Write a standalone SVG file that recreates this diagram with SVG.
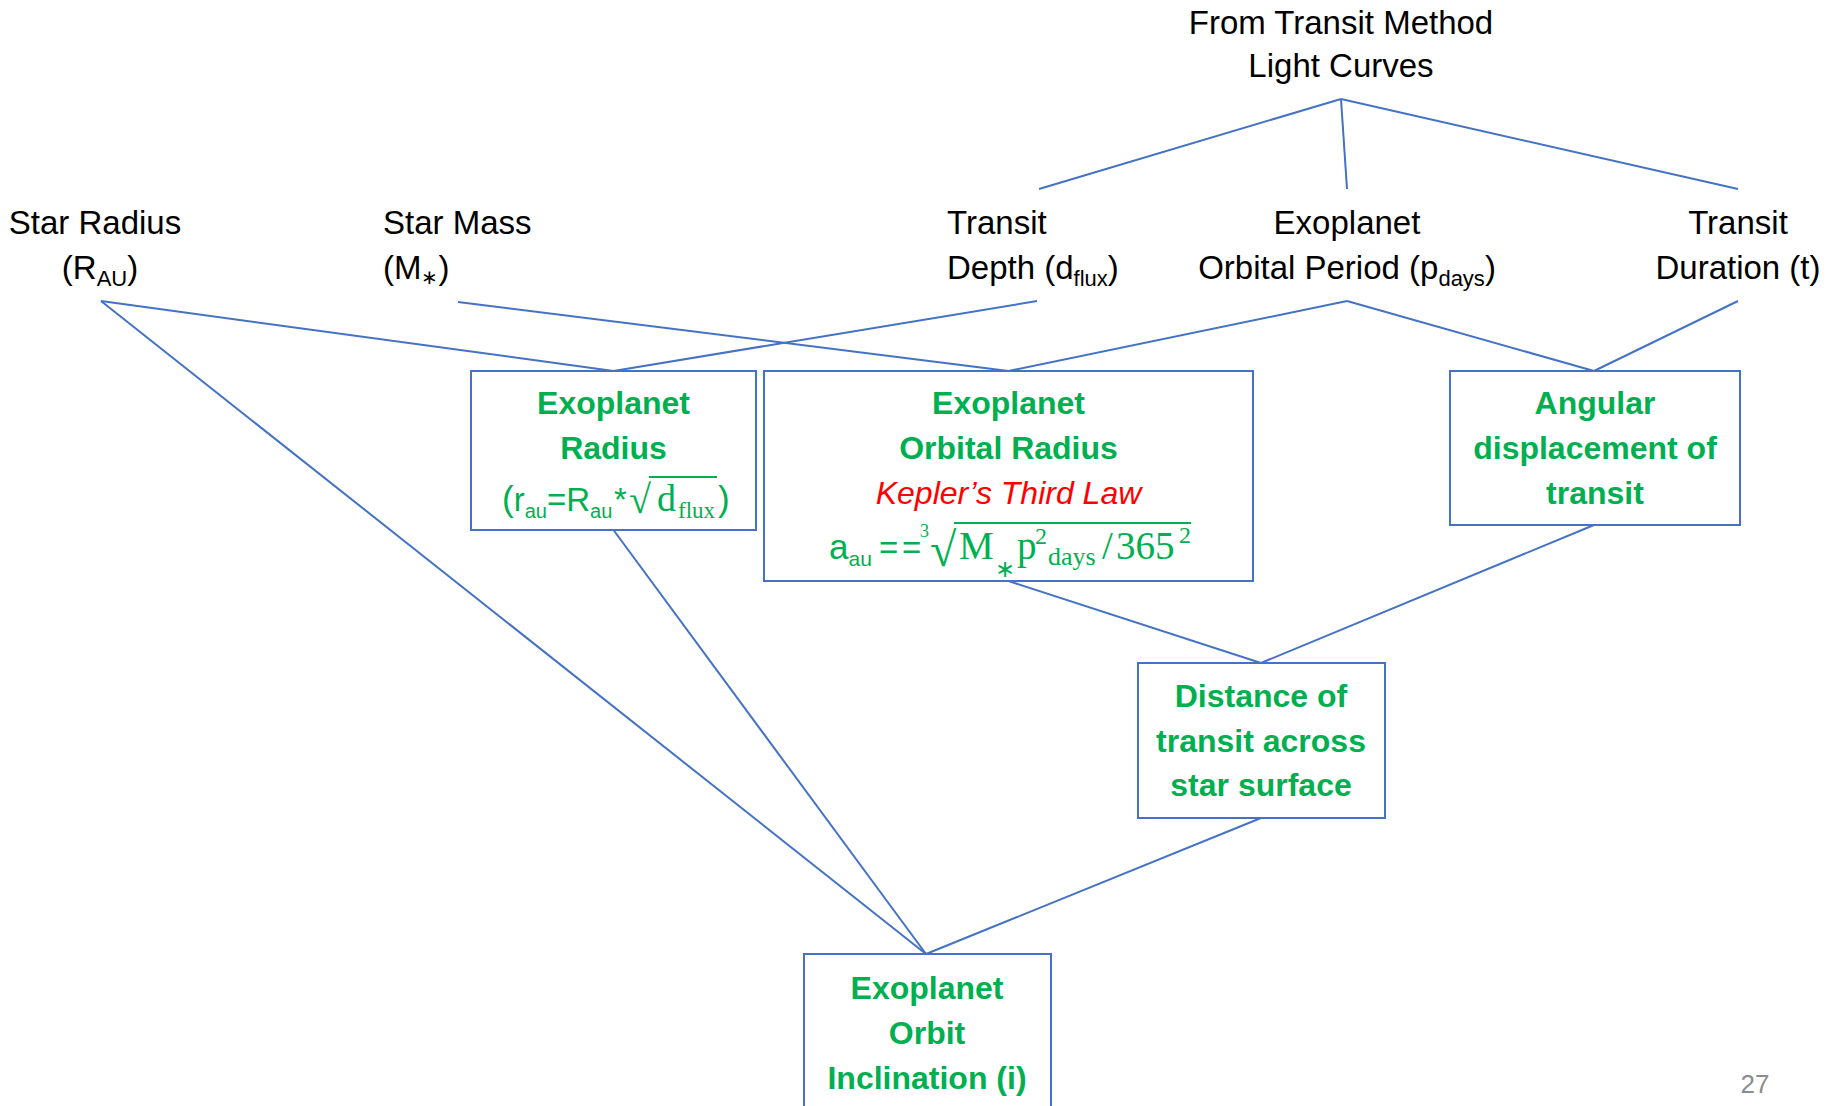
<svg xmlns="http://www.w3.org/2000/svg" width="1843" height="1106" viewBox="0 0 1843 1106">
<style>
.lbl{font-family:"Liberation Sans",Arial,sans-serif;font-size:33px;fill:#000}
.g{font-family:"Liberation Sans",Arial,sans-serif;font-size:32px;font-weight:bold;fill:#00B050}
.f{font-family:"Liberation Sans",Arial,sans-serif;font-size:33px;fill:#00B050}
.s{font-family:"Liberation Serif","Times New Roman",serif}
.red{font-family:"Liberation Sans",Arial,sans-serif;font-size:32px;font-style:italic;fill:#FF0000}
.box{fill:#fff;stroke:#4472C4;stroke-width:2}
.c line{stroke:#4472C4;stroke-width:2}
.bar{stroke:#00B050;stroke-width:2}
</style>
<rect width="1843" height="1106" fill="#fff"/>
<g class="c" id="connectors">
<line x1="1341" y1="99" x2="1039" y2="189"/>
<line x1="1341" y1="99" x2="1347" y2="189"/>
<line x1="1341" y1="99" x2="1738" y2="189"/>
<line x1="101" y1="301" x2="613.5" y2="371"/>
<line x1="101" y1="301" x2="926" y2="954"/>
<line x1="458" y1="302" x2="1008.5" y2="371"/>
<line x1="1037" y1="301" x2="613.5" y2="371"/>
<line x1="1347" y1="301" x2="1008.5" y2="371"/>
<line x1="1347" y1="301" x2="1594" y2="371"/>
<line x1="1738" y1="301" x2="1594" y2="371"/>
<line x1="613.5" y1="530" x2="926" y2="954"/>
<line x1="1008.5" y1="581" x2="1261" y2="663"/>
<line x1="1594" y1="525" x2="1261" y2="663"/>
<line x1="1261" y1="818" x2="926" y2="954"/>
</g>
<g id="source">
<text class="lbl" x="1341" y="34" text-anchor="middle">From Transit Method</text>
<text class="lbl" x="1341" y="77" text-anchor="middle">Light Curves</text>
</g>
<g id="star-radius">
<text class="lbl" x="95" y="234" text-anchor="middle">Star Radius</text>
<text class="lbl" x="100" y="279" text-anchor="middle">(R<tspan font-size="22" dy="7">AU</tspan><tspan dy="-7">)</tspan></text>
</g>
<g id="star-mass">
<text class="lbl" x="383" y="234">Star Mass</text>
<text class="lbl" x="383" y="279">(M<tspan font-size="20" dy="5">∗</tspan><tspan dy="-5">)</tspan></text>
</g>
<g id="transit-depth">
<text class="lbl" x="947" y="234">Transit</text>
<text class="lbl" x="947" y="279">Depth (d<tspan font-size="22" dy="7">flux</tspan><tspan dy="-7">)</tspan></text>
</g>
<g id="orbital-period">
<text class="lbl" x="1347" y="234" text-anchor="middle">Exoplanet</text>
<text class="lbl" x="1347" y="279" text-anchor="middle">Orbital Period (p<tspan font-size="22" dy="7">days</tspan><tspan dy="-7">)</tspan></text>
</g>
<g id="transit-duration">
<text class="lbl" x="1738" y="234" text-anchor="middle">Transit</text>
<text class="lbl" x="1738" y="279" text-anchor="middle">Duration (t)</text>
</g>
<g id="exoplanet-radius">
<rect class="box" x="471" y="371" width="285" height="159"/>
<text class="g" x="613.5" y="414" text-anchor="middle">Exoplanet</text>
<text class="g" x="613.5" y="459" text-anchor="middle">Radius</text>
<text class="f"><tspan x="502" y="511" font-size="35">(</tspan><tspan>r</tspan><tspan font-size="20" dy="7">au</tspan><tspan dy="-7">=R</tspan><tspan font-size="20" dy="7">au</tspan><tspan x="614" y="511">*</tspan><tspan class="s" font-size="40" x="629" y="513">√</tspan><tspan class="s" font-size="38" x="657" y="511">d</tspan><tspan class="s" font-size="23" x="678" y="518">flux</tspan><tspan x="718" y="511" font-size="35">)</tspan></text>
<line class="bar" x1="649" y1="477" x2="717" y2="477"/>
</g>
<g id="orbital-radius">
<rect class="box" x="764" y="371" width="489" height="210"/>
<text class="g" x="1008.5" y="414" text-anchor="middle">Exoplanet</text>
<text class="g" x="1008.5" y="459" text-anchor="middle">Orbital Radius</text>
<text class="red" x="1008.5" y="504" text-anchor="middle">Kepler’s Third Law</text>
<text class="f"><tspan x="829" y="559" font-size="35">a</tspan><tspan font-size="21" dy="7">au</tspan><tspan x="879" y="559">=</tspan><tspan x="902" y="559">=</tspan><tspan class="s" font-size="18" x="920" y="537">3</tspan><tspan class="s" font-size="48" x="930" y="566">√</tspan><tspan class="s" font-size="39" x="959" y="559">M</tspan><tspan class="s" font-size="24" x="995" y="577">∗</tspan><tspan class="s" font-size="39" x="1017" y="559">p</tspan><tspan class="s" font-size="24" x="1035" y="544">2</tspan><tspan class="s" font-size="26" x="1048" y="565">days</tspan><tspan class="s" font-size="39" x="1102" y="559">/</tspan><tspan class="s" font-size="39" x="1116" y="559">365</tspan><tspan class="s" font-size="24" x="1179" y="543">2</tspan></text>
<line class="bar" x1="954" y1="523" x2="1191" y2="523"/>
</g>
<g id="angular-displacement">
<rect class="box" x="1450" y="371" width="290" height="154"/>
<text class="g" x="1595" y="414" text-anchor="middle">Angular</text>
<text class="g" x="1595" y="459" text-anchor="middle">displacement of</text>
<text class="g" x="1595" y="504" text-anchor="middle">transit</text>
</g>
<g id="transit-distance">
<rect class="box" x="1138" y="663" width="247" height="155"/>
<text class="g" x="1261" y="707" text-anchor="middle">Distance of</text>
<text class="g" x="1261" y="752" text-anchor="middle">transit across</text>
<text class="g" x="1261" y="796" text-anchor="middle">star surface</text>
</g>
<g id="orbit-inclination">
<rect class="box" x="804" y="954" width="247" height="180"/>
<text class="g" x="927" y="999" text-anchor="middle">Exoplanet</text>
<text class="g" x="927" y="1044" text-anchor="middle">Orbit</text>
<text class="g" x="927" y="1089" text-anchor="middle">Inclination (i)</text>
</g>
<text x="1755" y="1093" text-anchor="middle" font-family="Liberation Sans, Arial, sans-serif" font-size="26" fill="#8c8c8c">27</text>
</svg>
